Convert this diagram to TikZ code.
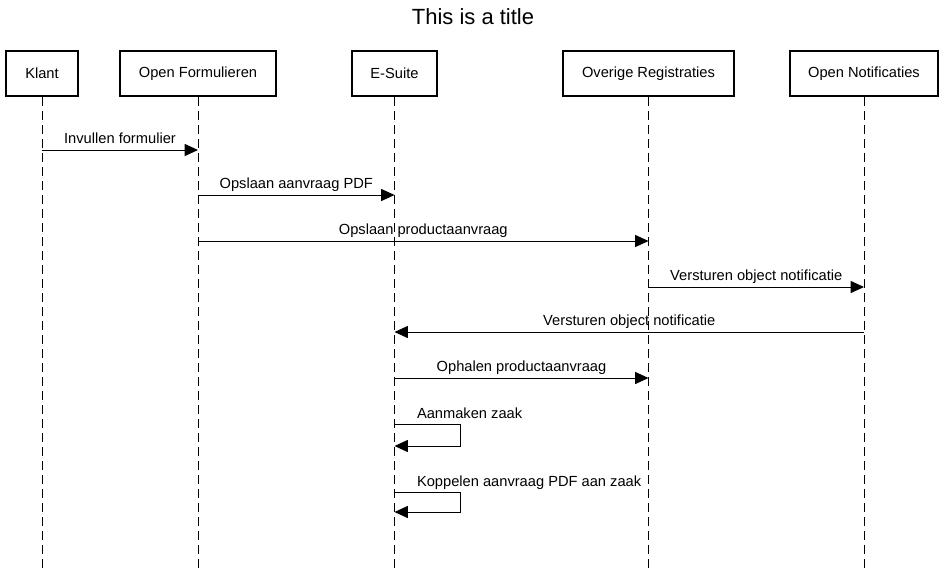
\documentclass[tikz,border=0pt]{standalone}
\usepackage{fontspec}
\setmainfont{Liberation Sans}
\usetikzlibrary{arrows.meta,positioning}

\begin{document}
\begin{tikzpicture}[
    x=0.75pt, y=-0.75pt,
    actor/.style={rectangle, draw, line width=1.5pt, minimum height=33.75pt, inner sep=0pt, font=\fontsize{11}{13}\selectfont},
    lifeline/.style={dash pattern=on 6.75pt off 3.75pt, line width=0.75pt},
    msg/.style={-{Triangle[length=10pt, width=9pt]}, line width=0.75pt},
    lbl/.style={inner sep=0pt, font=\fontsize{11}{13}\selectfont}
]
    \useasboundingbox (0,0) rectangle (945,569);

    % Title
    \node[font=\fontsize{16.5}{19}\selectfont] (title) at (473,17) {This is a title};

    % Participants
    \node[actor, minimum width=54pt] (klant) at (42,73.5) {Klant};
    \node[actor, minimum width=117pt] (formulieren) at (198,73.5) {Open Formulieren};
    \node[actor, minimum width=63.75pt] (esuite) at (394.5,73.5) {E-Suite};
    \node[actor, minimum width=128.25pt] (registraties) at (648.5,73.5) {Overige Registraties};
    \node[actor, minimum width=111pt] (notificaties) at (864,73.5) {Open Notificaties};

    % Lifelines
    \coordinate (klantEnd) at (klant.south |- 0,569);
    \coordinate (formulierenEnd) at (formulieren.south |- 0,569);
    \coordinate (esuiteEnd) at (esuite.south |- 0,569);
    \coordinate (registratiesEnd) at (registraties.south |- 0,569);
    \coordinate (notificatiesEnd) at (notificaties.south |- 0,569);
    \draw[lifeline] (klant.south) -- (klantEnd);
    \draw[lifeline] (formulieren.south) -- (formulierenEnd);
    \draw[lifeline] (esuite.south) -- (esuiteEnd);
    \draw[lifeline] (registraties.south) -- (registratiesEnd);
    \draw[lifeline] (notificaties.south) -- (notificatiesEnd);

    % Messages
    \draw[msg] (klant.south |- 0,150) -- node[lbl, anchor=base, yshift=5pt] {Invullen formulier} (formulieren.south |- 0,150);
    \draw[msg] (formulieren.south |- 0,195) -- node[lbl, anchor=base, yshift=5pt] {Opslaan aanvraag PDF} (esuite.south |- 0,195);
    \draw[msg] (formulieren.south |- 0,241) -- node[lbl, anchor=base, yshift=5pt] {Opslaan productaanvraag} (registraties.south |- 0,241);
    \draw[msg] (registraties.south |- 0,287) -- node[lbl, anchor=base, yshift=5pt] {Versturen object notificatie} (notificaties.south |- 0,287);
    \draw[msg] (notificaties.south |- 0,332) -- node[lbl, anchor=base, yshift=5pt] {Versturen object notificatie} (esuite.south |- 0,332);
    \draw[msg] (esuite.south |- 0,378) -- node[lbl, anchor=base, yshift=5pt] {Ophalen productaanvraag} (registraties.south |- 0,378);

    % Self messages
    \draw[msg] (esuite.south |- 0,424) node[lbl, anchor=base west, shift={(22,-6)}] {Aanmaken zaak}
        -- ++(66,0) |- (esuite.south |- 0,446);
    \draw[msg] (esuite.south |- 0,492) node[lbl, anchor=base west, shift={(22,-6)}] {Koppelen aanvraag PDF aan zaak}
        -- ++(66,0) |- (esuite.south |- 0,512);

\end{tikzpicture}
\end{document}
